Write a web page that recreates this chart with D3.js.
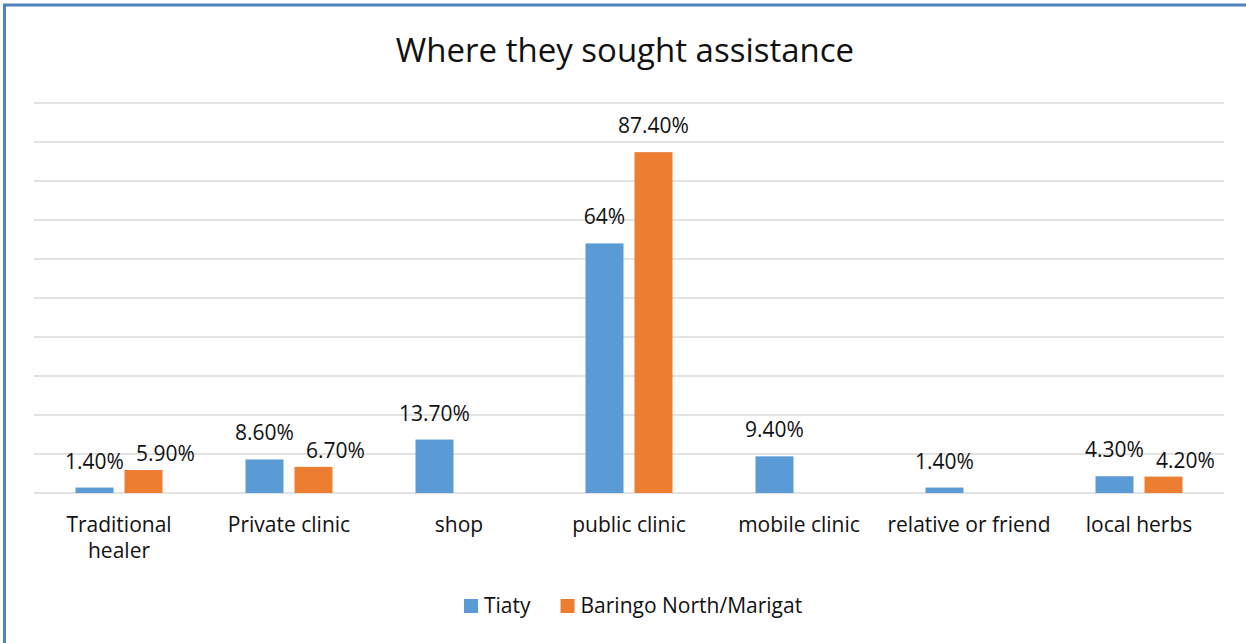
<!DOCTYPE html>
<html>
<head>
<meta charset="utf-8">
<script src="https://cdn.jsdelivr.net/npm/d3@7"></script>
<style>
  body { margin: 0; background: #fff; }
  svg { display: block; font-family: "Open Sans", "Noto Sans", sans-serif; }
</style>
</head>
<body>
<div class="graph-center"></div>
<script>
// data
let categories = ['Traditional healer', 'Private clinic', 'shop', 'public clinic', 'mobile clinic', 'relative or friend', 'local herbs']
let seriesNames = ['Tiaty', 'Baringo North/Marigat']
let tiaty = [1.4, 8.6, 13.7, 64, 9.4, 1.4, 4.3]
let baringo = [5.9, 6.7, null, 87.4, null, null, 4.2]
let tiatyLabels = ['1.40%', '8.60%', '13.70%', '64%', '9.40%', '1.40%', '4.30%']
let baringoLabels = ['5.90%', '6.70%', '', '87.40%', '', '', '4.20%']
let yTicks = [0, 10, 20, 30, 40, 50, 60, 70, 80, 90, 100]

let colors = ['#5B9BD5', '#ED7D31']

let svgWidth = 1246
let svgHeight = 643

let margin = { left: 34, right: 22, top: 103, bottom: 150 }
let width = svgWidth - margin.left - margin.right
let height = svgHeight - margin.top - margin.bottom

let root = d3.select('.graph-center')
    .append('svg')
    .attr('width', svgWidth)
    .attr('height', svgHeight)

// chart border (only top/left visible in the frame)
root.append('rect')
    .attr('x', 4.5)
    .attr('y', 5)
    .attr('width', svgWidth + 20)
    .attr('height', svgHeight + 20)
    .attr('fill', 'none')
    .attr('stroke', '#4F81BD')
    .attr('stroke-width', 3)

// title
root.append('text')
    .attr('x', margin.left + width / 2 - 4)
    .attr('y', 62)
    .attr('text-anchor', 'middle')
    .attr('font-size', 33)
    .attr('fill', '#111')
    .text('Where they sought assistance')

let svg = root.append('g')
    .attr('transform', `translate(${margin.left},${margin.top})`)

let x0 = d3.scaleBand()
    .domain(categories)
    .range([0, width])

let x1 = d3.scaleBand()
    .domain(seriesNames)
    .range([0, x0.bandwidth()])
    .paddingInner(0.2245)
    .paddingOuter(0.847)

let y = d3.scaleLinear()
    .domain([0, 100])
    .range([height, 0])

// gridlines
svg.append('g')
    .selectAll('line')
    .data(yTicks)
    .join('line')
    .attr('x1', 0)
    .attr('x2', width)
    .attr('y1', d => y(d))
    .attr('y2', d => y(d))
    .attr('stroke', '#D9D9D9')
    .attr('stroke-width', 1.5)

// rows for bars
let rows = []
categories.forEach((c, i) => {
    rows.push({ cat: c, s: seriesNames[0], v: tiaty[i], label: tiatyLabels[i], idx: 0 })
    if (baringo[i] != null) {
        rows.push({ cat: c, s: seriesNames[1], v: baringo[i], label: baringoLabels[i], idx: 1 })
    }
})

svg.append('g')
    .selectAll('rect')
    .data(rows)
    .join('rect')
    .attr('x', d => x0(d.cat) + x1(d.s))
    .attr('y', d => y(d.v))
    .attr('width', x1.bandwidth())
    .attr('height', d => y(0) - y(d.v))
    .attr('fill', d => colors[d.idx])

// data labels
let labels = svg.append('g')
    .attr('font-size', 21)
    .attr('fill', '#111')
    .attr('text-anchor', 'middle')
    .selectAll('text')
    .data(rows)
    .join('text')
    .attr('x', d => x0(d.cat) + x1(d.s) + x1.bandwidth() / 2)
    .attr('y', d => y(d.v) - 19)
    .text(d => d.label)

// nudge colliding labels apart (orange label moves right)
let boxes = {}
labels.each(function(d) {
    boxes[d.cat + '|' + d.idx] = { node: this, box: this.getBBox(), d: d }
})
categories.forEach(c => {
    let a = boxes[c + '|0'], b = boxes[c + '|1']
    if (!a || !b) return
    let vOverlap = a.box.y < b.box.y + b.box.height && b.box.y < a.box.y + a.box.height
    if (vOverlap && a.box.x + a.box.width + 8 > b.box.x) {
        let shift = a.box.x + a.box.width + 12 - b.box.x
        let cx = +d3.select(b.node).attr('x')
        d3.select(b.node)
            .attr('x', cx + shift)
            .attr('y', Math.min(y(b.d.v) - 7, +d3.select(b.node).attr('y') + 10))
    }
})

// category labels (wrapped)
let xAxis = svg.append('g')
    .attr('font-size', 21)
    .attr('fill', '#111')
    .attr('text-anchor', 'middle')

categories.forEach(c => {
    let lines = c == 'Traditional healer' ? ['Traditional', 'healer'] : [c]
    let t = xAxis.append('text')
        .attr('x', x0(c) + x0.bandwidth() / 2)
        .attr('y', height + 39)
    lines.forEach((l, i) => {
        t.append('tspan')
            .attr('x', x0(c) + x0.bandwidth() / 2)
            .attr('dy', i == 0 ? 0 : 26)
            .text(l)
    })
})

// legend
let legend = root.append('g')
    .attr('transform', 'translate(464,599)')

let lx = 0
seriesNames.forEach((s, i) => {
    let g = legend.append('g').attr('transform', `translate(${lx},0)`)
    g.append('rect')
        .attr('width', 14)
        .attr('height', 14)
        .attr('fill', colors[i])
    let t = g.append('text')
        .attr('x', 20)
        .attr('y', 14)
        .attr('font-size', 21)
        .attr('fill', '#111')
        .text(s)
    lx += 20 + t.node().getComputedTextLength() + 30
})
</script>
</body>
</html>
